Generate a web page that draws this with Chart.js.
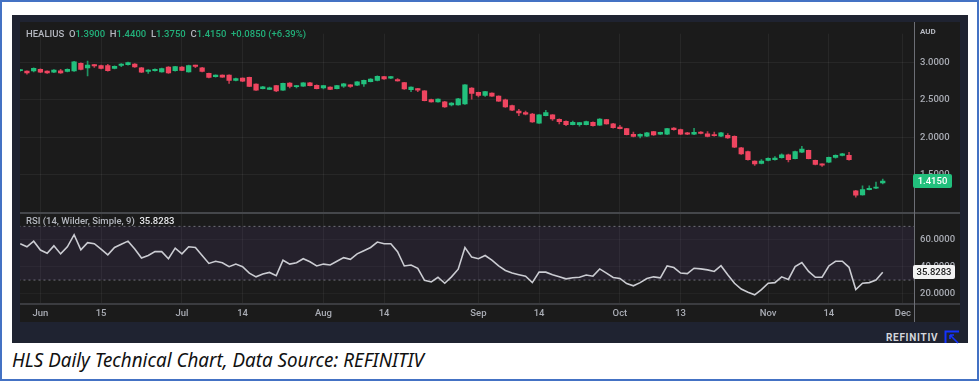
<!DOCTYPE html>
<html>
<head>
<meta charset="utf-8">
<script src="https://cdn.jsdelivr.net/npm/chart.js@4.4.0/dist/chart.umd.min.js"></script>
<style>
  html, body { margin: 0; padding: 0; }
  body { width: 979px; height: 381px; position: relative; background: #fff; overflow: hidden; font-family: Roboto, 'Noto Sans', sans-serif; }
  #frame { position: absolute; left: 0; top: 0; width: 975px; height: 377px; border: 2px solid #4472c4; }
  #panel { position: absolute; left: 12px; top: 15px; width: 956px; height: 328px; background: #1f2331; }
  #wrap { position: absolute; left: 20px; top: 22px; width: 940px; height: 300px; background: #1b1b1b; }
  .lbl { position: absolute; white-space: nowrap; font-size: 9.5px; font-weight: 500; color: #b4b7bf; line-height: 1; }
  .g { color: #22b07a; }
  .w { color: #e6e7ea; }
  #logo { position: absolute; left: 886px; top: 332px; font-size: 10px; font-weight: 700; letter-spacing: 0.7px; color: #d4d6dc; }
  #icon { position: absolute; left: 944px; top: 330px; }
  #caption { position: absolute; left: 12px; top: 350px; font-family: 'Noto Sans', sans-serif; font-style: italic; font-size: 20px; color: #111; white-space: nowrap; transform-origin: 0 0; line-height: 1; }
</style>
</head>
<body>
<div id="frame"></div>
<div id="panel"></div>
<div id="wrap"><canvas id="chart" width="940" height="300"></canvas></div>
<div class="lbl" style="left:26px; top:29px;">HEALIUS&nbsp;&nbsp;O<span class="g">1.3900</span>&nbsp;&nbsp;H<span class="g">1.4400</span>&nbsp;&nbsp;L<span class="g">1.3750</span>&nbsp;&nbsp;C<span class="g">1.4150</span>&nbsp;&nbsp;<span class="g">+0.0850 (+6.39%)</span></div>
<div class="lbl" style="left:26px; top:216px;">RSI (14, Wilder, Simple, 9)&nbsp;&nbsp;<span class="w">35.8283</span></div>
<div class="lbl" style="left:920px; top:28px; font-weight:700; font-size:8px;">AUD</div>
<div id="logo">REFINITIV</div>
<svg id="icon" width="16" height="14" viewBox="0 0 16 14">
  <path d="M1.5 13 V1.5 H15" fill="none" stroke="#1433ff" stroke-width="2"/>
  <path d="M6 5 L14 13 M6 5 H10 M6 5 V9" fill="none" stroke="#1433ff" stroke-width="1.6"/>
</svg>
<div id="caption">HLS Daily Technical Chart, Data Source: REFINITIV</div>

<script>
// daily candles, 29 May 2023 - 24 Nov 2023 (index = trading day)
const openPrices = [
  2.89, 2.885, 2.888, 2.91, 2.885, 2.87, 2.89, 2.88, 2.888, 2.99,
  2.927, 2.962, 2.96, 2.96, 2.92, 2.96, 2.97, 2.98, 2.93, 2.88,
  2.89, 2.875, 2.94, 2.89, 2.94, 2.875, 2.955, 2.93, 2.855, 2.81,
  2.83, 2.83, 2.76, 2.79, 2.80, 2.71, 2.65, 2.64, 2.69, 2.63,
  2.725, 2.675, 2.684, 2.727, 2.696, 2.66, 2.67, 2.65, 2.684, 2.70,
  2.696, 2.714, 2.744, 2.76, 2.81, 2.79, 2.77, 2.73, 2.637, 2.65,
  2.62, 2.504, 2.474, 2.474, 2.432, 2.432, 2.445, 2.658, 2.60, 2.56,
  2.59, 2.55, 2.50, 2.423, 2.35, 2.33, 2.31, 2.19, 2.29, 2.30,
  2.24, 2.214, 2.17, 2.17, 2.17, 2.20, 2.163, 2.235, 2.18, 2.137,
  2.115, 2.04, 2.013, 2.013, 2.077, 2.04, 2.04, 2.124, 2.103, 2.06,
  2.04, 2.07, 2.045, 2.03, 2.013, 2.026, 2.013, 1.859, 1.81, 1.68,
  1.65, 1.69, 1.70, 1.727, 1.765, 1.714, 1.80, 1.825, 1.69, 1.64,
  1.667, 1.73, 1.757, 1.757, 1.282, 1.23, 1.30, 1.318, 1.39
];
const highPrices = [
  2.905, 2.89, 2.93, 2.915, 2.89, 2.905, 2.91, 2.915, 3.015, 2.995,
  3.02, 2.975, 2.965, 2.975, 2.955, 2.985, 3.005, 2.985, 2.935, 2.905,
  2.915, 2.925, 2.945, 2.95, 2.945, 2.965, 2.965, 2.935, 2.86, 2.835,
  2.835, 2.835, 2.79, 2.795, 2.805, 2.715, 2.68, 2.67, 2.695, 2.725,
  2.73, 2.695, 2.73, 2.735, 2.70, 2.695, 2.675, 2.695, 2.72, 2.705,
  2.745, 2.765, 2.785, 2.82, 2.815, 2.815, 2.785, 2.735, 2.675, 2.655,
  2.625, 2.51, 2.515, 2.48, 2.465, 2.52, 2.705, 2.665, 2.605, 2.615,
  2.595, 2.555, 2.51, 2.43, 2.375, 2.35, 2.32, 2.305, 2.36, 2.305,
  2.245, 2.22, 2.215, 2.20, 2.215, 2.205, 2.25, 2.24, 2.185, 2.16,
  2.12, 2.07, 2.045, 2.065, 2.08, 2.07, 2.12, 2.13, 2.108, 2.065,
  2.12, 2.075, 2.075, 2.07, 2.065, 2.05, 2.018, 1.865, 1.815, 1.685,
  1.70, 1.725, 1.74, 1.78, 1.775, 1.815, 1.88, 1.83, 1.695, 1.645,
  1.735, 1.765, 1.785, 1.80, 1.29, 1.35, 1.35, 1.40, 1.44
];
const lowPrices = [
  2.885, 2.845, 2.875, 2.865, 2.855, 2.865, 2.855, 2.875, 2.88, 2.90,
  2.82, 2.935, 2.915, 2.885, 2.915, 2.945, 2.965, 2.935, 2.865, 2.855,
  2.885, 2.87, 2.855, 2.885, 2.89, 2.87, 2.93, 2.875, 2.795, 2.805,
  2.80, 2.72, 2.755, 2.745, 2.675, 2.625, 2.645, 2.635, 2.61, 2.625,
  2.66, 2.66, 2.68, 2.685, 2.645, 2.645, 2.635, 2.645, 2.665, 2.665,
  2.69, 2.68, 2.74, 2.755, 2.775, 2.785, 2.75, 2.64, 2.61, 2.61,
  2.485, 2.47, 2.47, 2.40, 2.42, 2.428, 2.44, 2.51, 2.54, 2.545,
  2.545, 2.478, 2.40, 2.355, 2.29, 2.30, 2.20, 2.185, 2.285, 2.225,
  2.18, 2.155, 2.165, 2.15, 2.165, 2.15, 2.16, 2.175, 2.122, 2.11,
  2.03, 2.005, 1.99, 2.008, 2.025, 2.035, 2.035, 2.095, 2.035, 2.035,
  2.035, 2.045, 2.005, 2.015, 2.008, 1.985, 1.862, 1.772, 1.695, 1.625,
  1.645, 1.685, 1.695, 1.72, 1.67, 1.71, 1.795, 1.71, 1.63, 1.61,
  1.66, 1.72, 1.75, 1.695, 1.20, 1.225, 1.295, 1.312, 1.375
];
const closePrices = [
  2.90, 2.86, 2.923, 2.87, 2.86, 2.90, 2.86, 2.91, 3.01, 2.906,
  2.965, 2.955, 2.92, 2.89, 2.95, 2.98, 3.00, 2.94, 2.87, 2.90,
  2.91, 2.92, 2.86, 2.945, 2.895, 2.96, 2.948, 2.88, 2.80, 2.83,
  2.805, 2.76, 2.785, 2.75, 2.68, 2.63, 2.675, 2.66, 2.62, 2.72,
  2.68, 2.69, 2.727, 2.69, 2.65, 2.69, 2.64, 2.69, 2.714, 2.68,
  2.74, 2.76, 2.778, 2.816, 2.78, 2.81, 2.755, 2.645, 2.67, 2.63,
  2.49, 2.474, 2.51, 2.406, 2.457, 2.513, 2.70, 2.586, 2.56, 2.61,
  2.55, 2.483, 2.406, 2.363, 2.325, 2.31, 2.205, 2.30, 2.33, 2.244,
  2.21, 2.17, 2.20, 2.195, 2.21, 2.154, 2.244, 2.18, 2.128, 2.115,
  2.035, 2.01, 2.04, 2.06, 2.03, 2.065, 2.115, 2.10, 2.04, 2.04,
  2.065, 2.05, 2.01, 2.02, 2.06, 1.99, 1.868, 1.778, 1.70, 1.645,
  1.68, 1.718, 1.72, 1.765, 1.70, 1.81, 1.842, 1.714, 1.637, 1.627,
  1.73, 1.76, 1.78, 1.70, 1.227, 1.30, 1.315, 1.33, 1.415
];
// RSI (14, Wilder)
const rsiValues = [
  57.1, 54.8, 59.0, 52.4, 50.0, 55.5, 49.5, 54.8, 63.8, 52.6,
  57.9, 57.1, 53.1, 48.8, 54.3, 56.7, 59.0, 53.1, 46.4, 48.3,
  51.2, 51.2, 45.9, 53.8, 49.5, 54.8, 54.3, 48.3, 42.4, 44.0,
  42.9, 40.0, 41.9, 40.0, 35.2, 32.4, 34.5, 35.7, 33.3, 44.8,
  41.9, 42.9, 45.9, 43.6, 40.5, 41.9, 41.2, 44.0, 46.7, 45.5,
  49.5, 51.9, 54.3, 58.3, 57.1, 57.1, 51.2, 40.5, 41.2, 38.8,
  29.8, 28.6, 32.1, 27.6, 32.4, 38.1, 54.3, 47.1, 45.9, 48.3,
  44.8, 40.5, 37.1, 35.2, 34.0, 32.9, 28.1, 35.9, 35.9, 34.0,
  32.4, 30.9, 31.7, 32.1, 33.8, 32.9, 38.3, 35.2, 31.9, 31.2,
  27.4, 25.7, 28.1, 31.2, 32.4, 31.7, 40.5, 39.3, 35.2, 34.8,
  38.8, 38.3, 37.6, 36.4, 40.7, 34.0, 27.6, 23.3, 20.9, 19.0,
  22.9, 27.6, 28.1, 32.4, 30.5, 40.0, 43.1, 36.4, 32.1, 32.1,
  40.5, 44.0, 44.0, 39.5, 22.9, 27.6, 28.1, 30.0, 35.8283
];
const tickIndex  = [3, 12, 24, 33, 45, 54, 68, 77, 89, 98, 111, 120, 131];
const tickLabels = ['Jun', '15', 'Jul', '14', 'Aug', '14', 'Sep', '14', 'Oct', '13', 'Nov', '14', 'Dec'];
const priceTicks = [1.5, 2.0, 2.5, 3.0];
const rsiTicks   = [20, 40, 60];
const rsiBands   = [70, 30];

const GREEN = '#22c07d';
const RED = '#ef4560';
const TICK_COLOR = '#a9acb4';
const GRID_COLOR = 'rgba(255,255,255,0.055)';

const isUp = i => closePrices[i] >= openPrices[i];

function tag(ctx, x, y, text, bg, fg, w) {
    ctx.fillStyle = bg;
    ctx.beginPath();
    ctx.roundRect(x - 1, Math.round(y) - 7, w, 14, 2);
    ctx.fill();
    ctx.fillStyle = fg;
    ctx.font = '500 9.5px Roboto';
    ctx.textAlign = 'center';
    ctx.textBaseline = 'middle';
    ctx.fillText(text, x - 1 + w / 2, Math.round(y) + 0.5);
}

const panelLines = {
    id: 'panelLines',
    afterDraw(chart) {
        const {ctx, chartArea, scales} = chart;
        const last = closePrices.length - 1;
        ctx.save();
        ctx.fillStyle = '#45474b';
        ctx.fillRect(0, Math.round(scales.y.bottom) - 1, chart.width, 2);
        ctx.fillStyle = '#3b3c40';
        ctx.fillRect(0, Math.round(chartArea.bottom), chart.width, 2);
        ctx.fillStyle = '#6c6e75';
        ctx.fillRect(Math.round(chartArea.right), 0, 1, chart.height);
        tag(ctx, chartArea.right, scales.y.getPixelForValue(closePrices[last]),
            closePrices[last].toFixed(4), GREEN, '#ffffff', 39);
        tag(ctx, chartArea.right, scales.y2.getPixelForValue(rsiValues[last]),
            rsiValues[last].toFixed(4), '#f2f2f2', '#1b1b1b', 42);
        ctx.restore();
    }
};

const idx = closePrices.map((_, i) => i);

new Chart(document.getElementById('chart'), {
    type: 'bar',
    data: {
        datasets: [
            {
                label: 'wick',
                data: idx.map(i => ({x: i, y: [lowPrices[i], highPrices[i]]})),
                backgroundColor: c => isUp(c.dataIndex) ? 'rgba(34,192,125,0.75)' : 'rgba(239,69,96,0.75)',
                barThickness: 1,
                grouped: false,
                yAxisID: 'y',
                order: 3
            },
            {
                label: 'body',
                data: idx.map(i => ({x: i, y: [openPrices[i], closePrices[i]]})),
                backgroundColor: c => isUp(c.dataIndex) ? GREEN : RED,
                barThickness: 4.6,
                minBarLength: 1.2,
                grouped: false,
                yAxisID: 'y',
                order: 2
            },
            {
                type: 'line',
                label: 'upper',
                data: [{x: -1, y: rsiBands[0]}, {x: 140, y: rsiBands[0]}],
                borderColor: '#707078',
                borderWidth: 1,
                borderDash: [2, 3],
                pointRadius: 0,
                fill: '+1',
                backgroundColor: 'rgba(126,87,194,0.1)',
                yAxisID: 'y2',
                order: 5
            },
            {
                type: 'line',
                label: 'lower',
                data: [{x: -1, y: rsiBands[1]}, {x: 140, y: rsiBands[1]}],
                borderColor: '#707078',
                borderWidth: 1,
                borderDash: [2, 3],
                pointRadius: 0,
                fill: false,
                yAxisID: 'y2',
                order: 5
            },
            {
                type: 'line',
                label: 'RSI',
                data: idx.map(i => ({x: i, y: rsiValues[i]})),
                borderColor: '#cbccd2',
                borderWidth: 1.6,
                pointRadius: 0,
                tension: 0,
                fill: false,
                yAxisID: 'y2',
                order: 0
            }
        ]
    },
    options: {
        responsive: false,
        animation: false,
        layout: { padding: 0 },
        plugins: {
            legend: { display: false },
            tooltip: { enabled: false }
        },
        scales: {
            x: {
                type: 'linear',
                min: -0.03,
                max: 132.64,
                offset: false,
                grid: { color: GRID_COLOR, offset: false, drawTicks: false },
                border: { display: false },
                afterBuildTicks: s => { s.ticks = tickIndex.map(v => ({value: v})); },
                afterFit: s => { s.height = 19; },
                ticks: {
                    autoSkip: false,
                    maxRotation: 0,
                    padding: 5,
                    color: TICK_COLOR,
                    font: { family: 'Roboto', size: 9.5, weight: '500' },
                    callback: (v, i) => tickLabels[i]
                }
            },
            y: {
                type: 'linear',
                position: 'right',
                stack: 'panes',
                stackWeight: 2,
                min: 0.984,
                max: 3.385,
                grid: { color: GRID_COLOR, drawTicks: false },
                border: { display: false },
                afterBuildTicks: s => { s.ticks = priceTicks.map(v => ({value: v})); },
                afterFit: s => { s.width = 46; },
                ticks: {
                    padding: 6,
                    color: TICK_COLOR,
                    font: { family: 'Roboto', size: 9.5, weight: '500' },
                    callback: v => v.toFixed(4)
                }
            },
            y2: {
                type: 'linear',
                position: 'right',
                stack: 'panes',
                stackWeight: 1,
                min: 12.9,
                max: 79.8,
                grid: { color: 'rgba(255,255,255,0.035)', drawTicks: false },
                border: { display: false },
                afterBuildTicks: s => { s.ticks = rsiTicks.map(v => ({value: v})); },
                afterFit: s => { s.width = 46; },
                ticks: {
                    padding: 6,
                    color: TICK_COLOR,
                    font: { family: 'Roboto', size: 9.5, weight: '500' },
                    callback: v => v.toFixed(4)
                }
            }
        }
    },
    plugins: [panelLines]
});

// fit the caption to the width it has in the original
const cap = document.getElementById('caption');
cap.style.transform = 'scaleX(' + (412 / cap.getBoundingClientRect().width) + ')';
</script>
</body>
</html>
